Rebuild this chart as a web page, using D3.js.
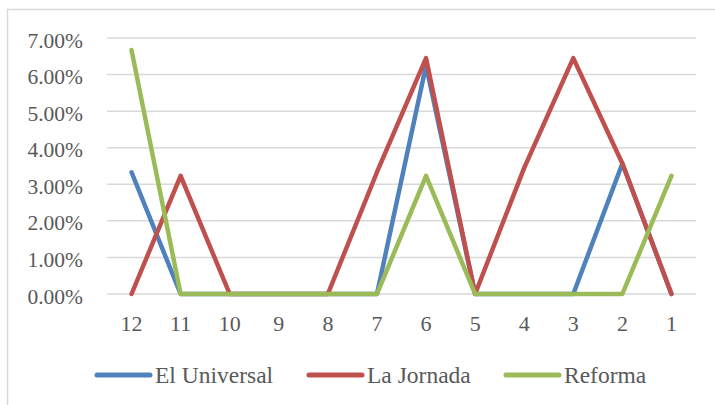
<!DOCTYPE html>
<html><head><meta charset="utf-8">
<script src="https://cdn.jsdelivr.net/npm/d3@7"></script>
<style>body{margin:0;background:#fff}svg{display:block}</style>
</head><body>
<script>
const categories = ["12","11","10","9","8","7","6","5","4","3","2","1"];
const elUniversal = [3.33,0,0,0,0,0,6.25,0,0,0,3.57,0];
const laJornada   = [0,3.23,0,0,0,3.33,6.45,0,3.45,6.45,3.57,0];
const reforma     = [6.67,0,0,0,0,0,3.23,0,0,0,0,3.23];
const seriesNames = ["El Universal","La Jornada","Reforma"];
const seriesColors = ["#4F81BD","#C0504D","#9BBB59"];
const yTicks = [0,1,2,3,4,5,6,7];

const W=715,H=405;
const svg=d3.select("body").append("svg").attr("width",W).attr("height",H);
svg.append("rect").attr("x",7.5).attr("y",9.5).attr("width",720).attr("height",410)
  .attr("fill","#fff").attr("stroke","#D9D9D9").attr("stroke-width",1.5);

const x=d3.scaleBand().domain(categories).range([107,696]);
const y=d3.scaleLinear().domain([0,7]).range([294,38]);
const font="'Liberation Serif','Times New Roman',serif";

const grid=svg.append("g");
grid.selectAll("line").data(yTicks).join("line")
  .attr("x1",107).attr("x2",696).attr("y1",d=>y(d)).attr("y2",d=>y(d))
  .attr("stroke","#D9D9D9").attr("stroke-width",1.5);

const yAxis=svg.append("g").attr("transform","translate(83,0)")
  .call(d3.axisLeft(y).tickValues(yTicks).tickSize(0).tickPadding(0).tickFormat(d=>d.toFixed(2)+"%"));
yAxis.select(".domain").remove();
yAxis.selectAll("text").attr("font-family",font).attr("font-size",21.5).attr("fill","#595959").attr("dy","0.42em");

const xAxis=svg.append("g").attr("transform","translate(0,294)")
  .call(d3.axisBottom(x).tickSize(0).tickPadding(0));
xAxis.select(".domain").remove();
xAxis.selectAll("text").attr("font-family",font).attr("font-size",22).attr("fill","#595959").attr("dy",0).attr("y",37);

const allSeries=[elUniversal,laJornada,reforma];
const line=d3.line().x((d,i)=>x(categories[i])+x.bandwidth()/2).y(d=>y(d));
allSeries.forEach((s,k)=>{
  svg.append("path").attr("d",line(s)).attr("fill","none")
    .attr("stroke",seriesColors[k]).attr("stroke-width",4.5)
    .attr("stroke-linejoin","round").attr("stroke-linecap","round");
});

const legendX=[95,307,504];
const lg=svg.append("g");
seriesNames.forEach((n,k)=>{
  lg.append("line").attr("x1",legendX[k]+2).attr("x2",legendX[k]+55).attr("y1",375).attr("y2",375)
    .attr("stroke",seriesColors[k]).attr("stroke-width",5).attr("stroke-linecap","round");
  lg.append("text").attr("x",legendX[k]+60).attr("y",383).text(n)
    .attr("font-family",font).attr("font-size",23.5).attr("fill","#595959");
});
</script>
</body></html>
